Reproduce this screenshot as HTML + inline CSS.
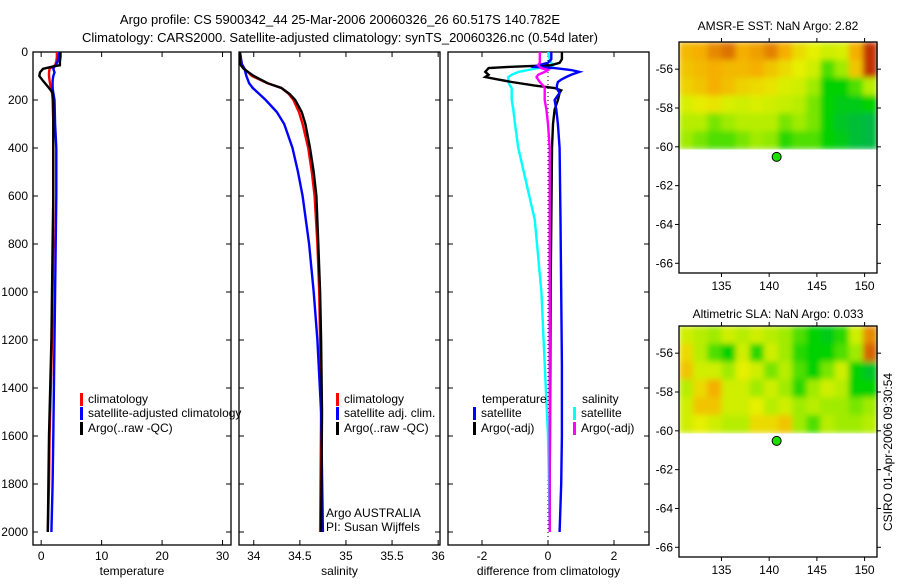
<!DOCTYPE html>
<html><head><meta charset="utf-8"><style>
body{margin:0;background:#fff;width:900px;height:580px;overflow:hidden}
svg text{font-family:"Liberation Sans",sans-serif;font-size:12px;fill:#000}
</style></head><body>
<svg id="c" width="900" height="580" xmlns="http://www.w3.org/2000/svg">
<defs><filter id="bl" x="0" y="0" width="1" height="1"><feGaussianBlur stdDeviation="3" edgeMode="duplicate"/></filter></defs>
<text x="340" y="24" text-anchor="middle" style="font-size:13px">Argo profile: CS 5900342_44 25-Mar-2006 20060326_26 60.517S 140.782E</text>
<text x="340" y="42" text-anchor="middle" style="font-size:13px">Climatology: CARS2000. Satellite-adjusted climatology: synTS_20060326.nc (0.54d later)</text>
<text x="778" y="30" text-anchor="middle">AMSR-E SST: NaN Argo: 2.82</text>
<text x="778" y="318" text-anchor="middle">Altimetric SLA: NaN Argo: 0.033</text>
<text transform="translate(892,452) rotate(-90)" text-anchor="middle">CSIRO 01-Apr-2006 09:30:54</text>
</svg>
<script>
// ---- data ----
const tDepth=[0,20,40,55,60,70,85,100,120,150,170,200,300,400,600,800,1000,1200,1400,1600,1800,2000];
const tClim=[2.6,2.6,2.5,2.3,2.0,1.4,1.3,1.3,1.4,1.6,1.8,1.9,2.0,2.0,2.0,2.0,1.9,1.8,1.6,1.4,1.3,1.1];
const tSat=[3.0,2.9,2.7,2.4,2.2,2.0,2.2,2.0,1.9,1.9,2.0,2.2,2.3,2.5,2.5,2.4,2.3,2.2,2.1,2.0,1.9,1.7];
const tArgo=[3.2,3.2,3.1,3.1,2.0,0.3,-0.2,-0.3,0.3,1.3,1.9,2.0,2.0,2.0,2.0,1.9,1.8,1.7,1.5,1.3,1.2,1.1];
const sDepth=[0,50,70,100,130,150,175,200,250,300,400,500,600,800,1000,1200,1500,2000];
const sClim=[33.85,33.87,33.9,33.98,34.15,34.3,34.38,34.43,34.49,34.53,34.59,34.63,34.66,34.69,34.71,34.72,34.73,34.72];
const sSat=[33.85,33.87,33.9,33.92,33.95,33.99,34.06,34.13,34.25,34.33,34.42,34.48,34.53,34.6,34.65,34.69,34.73,34.75];
const sArgo=[33.85,33.85,33.89,34.0,34.15,34.3,34.39,34.45,34.52,34.56,34.61,34.65,34.68,34.70,34.72,34.73,34.74,34.73];
const dDepth=[0,30,45,55,62,67,75,83,95,104,115,125,140,150,160,170,200,240,300,400,700,1000,1300,1600,1800,2000];
const dTempSat=[0.1,0.1,0.0,-0.3,-0.4,0.2,0.7,0.95,0.7,0.55,0.4,0.3,0.27,0.27,0.3,0.35,0.2,0.25,0.3,0.35,0.38,0.4,0.42,0.42,0.4,0.35];
const dTempArgo=[0.42,0.42,0.35,0.1,-1.2,-1.8,-1.85,-1.9,-1.8,-1.9,-1.5,-1.1,-0.4,0.2,0.4,0.35,0.3,0.2,0.15,0.12,0.1,0.08,0.07,0.06,0.05,0.05];
const dSalSat=[0.0,0.05,0.1,0.15,0.1,-0.3,-0.6,-0.9,-1.1,-1.2,-1.2,-1.2,-1.15,-1.1,-1.1,-1.1,-1.1,-1.05,-1.0,-0.9,-0.4,-0.2,-0.1,0.0,0.03,0.05];
const dSalArgo=[-0.25,-0.25,-0.25,-0.3,-0.25,-0.2,0.0,-0.1,-0.3,-0.35,-0.3,-0.25,-0.15,-0.1,-0.1,-0.1,-0.1,-0.05,0.0,0.05,0.05,0.05,0.05,0.05,0.05,0.05];
const depthTicks=[0,200,400,600,800,1000,1200,1400,1600,1800,2000];
const tempTicks=[0,10,20,30];
const salTicks=[34,34.5,35,35.5,36];
const diffTicks=[-2,0,2];
const lonTicks=[135,140,145,150];
const latTicks=[-56,-58,-60,-62,-64,-66];
const sstGrid=[
[.78,.8,.85,.88,.8,.82,.86,.8,.7,.65,.6,.62,.8,.95],
[.75,.78,.8,.78,.78,.8,.75,.7,.65,.6,.4,.5,.75,.95],
[.72,.75,.8,.76,.72,.7,.68,.62,.6,.5,.3,.3,.4,.55],
[.62,.66,.68,.62,.6,.62,.6,.58,.55,.45,.3,.25,.25,.3],
[.55,.55,.45,.5,.55,.55,.55,.45,.5,.45,.3,.2,.15,.12],
[.5,.45,.4,.4,.45,.5,.48,.35,.4,.4,.3,.25,.15,.12]];
const slaGrid=[
[.6,.55,.5,.6,.55,.6,.55,.5,.4,.3,.25,.35,.6,.85],
[.7,.55,.4,.3,.6,.35,.6,.5,.35,.3,.3,.4,.5,.9],
[.75,.6,.6,.5,.65,.6,.45,.55,.4,.3,.45,.6,.3,.2],
[.55,.7,.8,.6,.6,.5,.6,.5,.35,.5,.6,.55,.3,.3],
[.6,.75,.75,.6,.6,.65,.55,.6,.5,.55,.5,.5,.45,.5],
[.6,.65,.6,.55,.55,.7,.7,.75,.5,.4,.55,.5,.5,.55]];
const argoLon=140.782, argoLat=-60.517;

const svg=document.getElementById('c');
const NS='http://www.w3.org/2000/svg';
function mk(tag,at,parent){const e=document.createElementNS(NS,tag);for(const k in at)e.setAttribute(k,at[k]);(parent||svg).appendChild(e);return e;}
const Y0=52,Y1=545,yD=d=>Y0+d*0.24;
function panel(name,x0,x1,lo,hi,ticks,xlabel,showY){
  const sx=v=>x0+(v-lo)/(hi-lo)*(x1-x0);
  const g=mk('g',{});
  
  
  const r=mk('rect',{x:x0,y:Y0,width:x1-x0,height:Y1-Y0,fill:'none',stroke:'#000','stroke-width':1.3},g);
  
  
  depthTicks.forEach(d=>{const y=yD(d);
    mk('line',{x1:x0,x2:x0+5,y1:y,y2:y,stroke:'#000'},g);mk('line',{x1:x1-5,x2:x1,y1:y,y2:y,stroke:'#000'},g);
    if(showY){const t=mk('text',{x:x0-5,y:y+4,'text-anchor':'end'},g);t.textContent=d;
      
      }});
  ticks.forEach(v=>{const x=sx(v);
    mk('line',{x1:x,x2:x,y1:Y0,y2:Y0+5,stroke:'#000'},g);mk('line',{x1:x,x2:x,y1:Y1-5,y2:Y1,stroke:'#000'},g);
    const t=mk('text',{x:x,y:Y1+15,'text-anchor':'middle'},g);t.textContent=v;
    
    });
  const xl=mk('text',{x:(x0+x1)/2,y:Y1+30,'text-anchor':'middle'},g);xl.textContent=xlabel;
  
  
  return {sx,g};
}
function line(p,depths,vals,color,name){
  const pts=depths.map((d,i)=>p.sx(vals[i]).toFixed(1)+','+yD(d).toFixed(1)).join(' ');
  const l=mk('polyline',{points:pts,fill:'none',stroke:color,'stroke-width':2.4,'stroke-linejoin':'miter'},p.g);
  
  
}
function legend(g,x,y,color,label){
  if(color){mk('rect',{x:x,y:y-10,width:3,height:13,fill:color},g);}
  const t=mk('text',{x:x+8,y:y},g);t.textContent=label;
  
  
}
const p1=panel('temperature-panel',33,231,-1.35,31.4,tempTicks,'temperature',true);
line(p1,tDepth,tClim,'#f00','temp-climatology-line');
line(p1,tDepth,tSat,'#00f','temp-satellite-line');
line(p1,tDepth,tArgo,'#000','temp-argo-line');
legend(p1.g,80,403,'#f00','climatology');legend(p1.g,80,417,'#00f','satellite-adjusted climatology');legend(p1.g,80,432,'#000','Argo(..raw -QC)');
const p2=panel('salinity-panel',239,440,33.84,36.02,salTicks,'salinity',false);
line(p2,sDepth,sClim,'#f00','sal-climatology-line');
line(p2,sDepth,sSat,'#00f','sal-satellite-line');
line(p2,sDepth,sArgo,'#000','sal-argo-line');
legend(p2.g,336,403,'#f00','climatology');legend(p2.g,336,417,'#00f','satellite adj. clim.');legend(p2.g,336,432,'#000','Argo(..raw -QC)');
{const t=mk('text',{x:326,y:517},p2.g);t.textContent='Argo AUSTRALIA';
 const u=mk('text',{x:326,y:531},p2.g);u.textContent='PI: Susan Wijffels';}
const p3=panel('difference-panel',448,649,-3.03,3.06,diffTicks,'difference from climatology',false);
mk('line',{x1:p3.sx(0),x2:p3.sx(0),y1:Y0,y2:Y1,stroke:'#000','stroke-dasharray':'1,3'},p3.g);
line(p3,dDepth,dSalSat,'#0ff','diff-sal-satellite-line');
line(p3,dDepth,dTempArgo,'#000','diff-temp-argo-line');
line(p3,dDepth,dTempSat,'#00f','diff-temp-satellite-line');
line(p3,dDepth,dSalArgo,'#f0f','diff-sal-argo-line');
legend(p3.g,474,403,null,'temperature');legend(p3.g,473,417,'#00f','satellite');legend(p3.g,473,432,'#000','Argo(-adj)');
legend(p3.g,574,403,null,'salinity');legend(p3.g,573,417,'#0ff','satellite');legend(p3.g,573,432,'#f0f','Argo(-adj)');

function cmap(v){const st=[[0,[0,170,110]],[.3,[0,210,0]],[.5,[160,235,0]],[.65,[230,240,0]],[.8,[245,175,0]],[.9,[215,100,0]],[1,[170,0,0]]];
  for(let i=1;i<st.length;i++){if(v<=st[i][0]){const a=st[i-1],b=st[i],f=(v-a[0])/(b[0]-a[0]);
    return 'rgb('+a[1].map((c,k)=>Math.round(c+(b[1][k]-c)*f)).join(',')+')';}}return 'rgb(170,0,0)';}
function map(name,top,grid){
  const x0=679,x1=877,bot=top+231,lon0=130.55,lon1=151.3,lat0=-54.6,lat1=-66.5;
  const sx=v=>x0+(v-lon0)/(lon1-lon0)*(x1-x0), sy=v=>top+(v-lat0)/(lat1-lat0)*(bot-top);
  const g=mk('g',{});
  
  
  const rows=grid.length,cols=grid[0].length,latE=-60.1,cw=(x1-x0)/cols,ch=(sy(latE)-top)/rows;
  const hg=mk('g',{filter:'url(#bl)'},g);
  
  
  grid.forEach((row,r)=>row.forEach((v,c)=>{const cell=mk('rect',{x:x0+c*cw,y:top+r*ch,width:cw+0.6,height:ch+0.6,fill:cmap(v)},hg);
    
    }));
  const f=mk('rect',{x:x0,y:top,width:x1-x0,height:bot-top,fill:'none',stroke:'#000','stroke-width':1.3},g);
  
  
  lonTicks.forEach(v=>{const x=sx(v);mk('line',{x1:x,x2:x,y1:top-4,y2:top,stroke:'#000'},g);mk('line',{x1:x,x2:x,y1:bot,y2:bot+4,stroke:'#000'},g);
    const t=mk('text',{x:x,y:bot+17,'text-anchor':'middle'},g);t.textContent=v;
    
    });
  latTicks.forEach(v=>{const y=sy(v);mk('line',{x1:x0-4,x2:x0,y1:y,y2:y,stroke:'#000'},g);mk('line',{x1:x1,x2:x1+4,y1:y,y2:y,stroke:'#000'},g);
    const t=mk('text',{x:x0-6,y:y+4,'text-anchor':'end'},g);t.textContent=v;
    
    });
  const d=mk('circle',{cx:sx(argoLon),cy:sy(argoLat),r:4.5,fill:'#22dd00',stroke:'#000','stroke-width':1},g);
  
  
}
map('sst-map',42,sstGrid);
map('sla-map',326,slaGrid);
</script>
</body></html>
